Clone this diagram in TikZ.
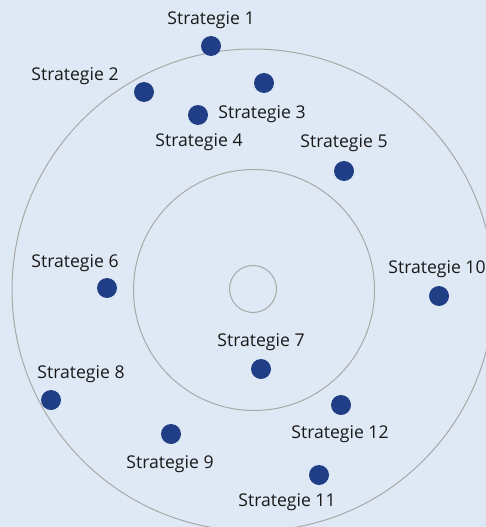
\documentclass[tikz,border=0pt]{standalone}
\usepackage{fontspec}
\setmainfont{Open Sans}
\definecolor{bgblue}{HTML}{DFE9F5}
\definecolor{dotblue}{HTML}{1F3E85}
\definecolor{ringgray}{HTML}{A8A8A8}
\begin{document}
\begin{tikzpicture}[x=1pt,y=-1pt,
  ring/.style={draw=ringgray,line width=1pt,circle,inner sep=0pt},
  strat/.style={circle,fill=dotblue,inner sep=0pt,minimum size=20pt},
  lbl/.style={font=\fontsize{17.6}{20}\selectfont,text=black!90,inner sep=0pt,anchor=base}]
\fill[bgblue] (0,0) rectangle (486,527);
\useasboundingbox (0,0) rectangle (486,527);
\begin{scope}
\clip (0,0) rectangle (486,527);
\node[ring,minimum size=482pt] (outer) at (253,290) {};
\node[ring,minimum size=241pt] (middle) at (254,290) {};
\node[ring,minimum size=47pt] (inner) at (253,289) {};
\end{scope}
% strategies: dot and label (labels placed on their baselines)
\node[strat] (s1) at (211,46) {};
\node[lbl] (l1) at (211,24.5) {Strategie 1};
\node[strat] (s2) at (144,92) {};
\node[lbl] (l2) at (75,81) {Strategie 2};
\node[strat] (s3) at (264,83) {};
\node[lbl] (l3) at (262,118.5) {Strategie 3};
\node[strat] (s4) at (198,115) {};
\node[lbl] (l4) at (199,146.5) {Strategie 4};
\node[strat] (s5) at (344,171) {};
\node[lbl] (l5) at (344,147) {Strategie 5};
\node[strat] (s6) at (107,288) {};
\node[lbl] (l6) at (75,267.5) {Strategie 6};
\node[strat] (s7) at (261,369) {};
\node[lbl] (l7) at (261,346.5) {Strategie 7};
\node[strat] (s8) at (51,400) {};
\node[lbl] (l8) at (81,378) {Strategie 8};
\node[strat] (s9) at (171,434) {};
\node[lbl] (l9) at (170,468) {Strategie 9};
\node[strat] (s10) at (439,296) {};
\node[lbl] (l10) at (437,273.5) {Strategie 10};
\node[strat] (s11) at (319,475) {};
\node[lbl] (l11) at (287,506.5) {Strategie 11};
\node[strat] (s12) at (341,405) {};
\node[lbl] (l12) at (340,438) {Strategie 12};
\end{tikzpicture}
\end{document}
